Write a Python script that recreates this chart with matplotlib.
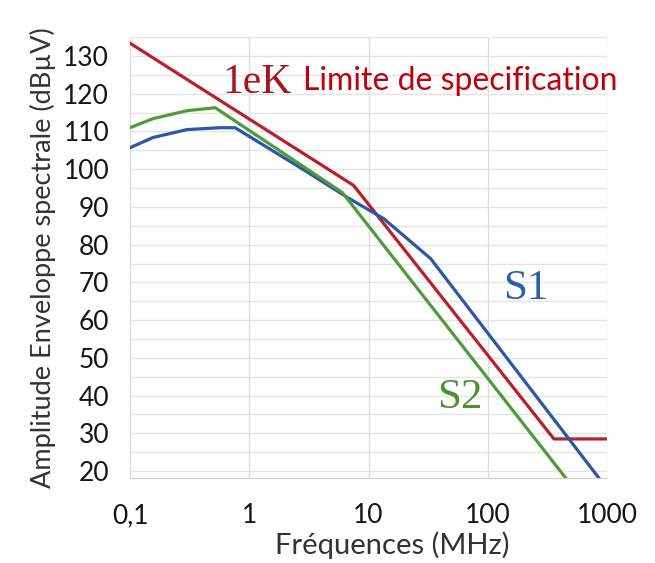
import matplotlib.pyplot as plt
from matplotlib.ticker import FixedLocator, FixedFormatter, NullLocator

# Values (MHz, dBµV)
limit_f = [0.1, 7.5, 359, 1000]
limit_v = [133.4, 95.7, 28.5, 28.5]

s1_f = [0.1, 0.156, 0.30, 0.57, 0.76, 2.68, 6.66, 13.4, 33.2, 857]
s1_v = [105.7, 108.4, 110.5, 111.0, 111.0, 100.4, 92.5, 86.9, 76.3, 18.1]

s2_f = [0.1, 0.156, 0.30, 0.518, 6.04, 452]
s2_v = [111.0, 113.4, 115.5, 116.3, 93.8, 18.1]

x_ticks = [0.1, 1, 10, 100, 1000]
x_labels = ['0,1', '1', '10', '100', '1000']
y_ticks = [20, 30, 40, 50, 60, 70, 80, 90, 100, 110, 120, 130]

plt.rcParams['font.family'] = ['Lato', 'DejaVu Sans']

fig = plt.figure(figsize=(6.55, 5.63), dpi=100)
ax = fig.add_axes([0.1985, 0.151, 0.7282, 0.783])

ax.plot(limit_f, limit_v, color='#B8202A', lw=2.3)
ax.plot(s1_f, s1_v, color='#2E56A6', lw=2.3)
ax.plot(s2_f, s2_v, color='#519A3C', lw=2.3)

ax.set_xscale('log')
ax.set_xlim(0.1, 1000)
ax.set_ylim(18.15, 134.8)

ax.xaxis.set_major_locator(FixedLocator(x_ticks))
ax.xaxis.set_major_formatter(FixedFormatter(x_labels))
ax.xaxis.set_minor_locator(NullLocator())
ax.yaxis.set_major_locator(FixedLocator(y_ticks))
ax.set_yticks(list(range(20, 136, 5)), minor=True)

ax.grid(True, which='major', axis='x', color='#DDDDDD', lw=1)
ax.grid(True, which='both', axis='y', color='#E4E4E4', lw=1)
ax.set_axisbelow(True)

for s in ['top', 'right', 'left']:
    ax.spines[s].set_visible(False)
ax.spines['bottom'].set_color('#D0D0D0')

ax.tick_params(axis='both', which='both', length=0, labelsize=19, colors='#151515')
ax.tick_params(axis='x', pad=18)
ax.tick_params(axis='y', pad=15)

ax.set_xlabel('Fréquences (MHz)', fontsize=21, color='#333333')
ax.xaxis.set_label_coords(0.549, -0.122)
ax.set_ylabel('Amplitude Enveloppe spectrale (dBµV)', fontsize=19.5, color='#333333', labelpad=5)

fig.text(0.340, 0.853, '1eK', family=['Liberation Serif'], fontsize=30,
         color='#A8141C', ha='left', va='center')
fig.text(0.463, 0.857, 'Limite de specification', fontsize=23,
         color='#C0000A', ha='left', va='center')
fig.text(0.768, 0.488, 'S1', family=['Liberation Serif'], fontsize=31,
         color='#2E5FAA', ha='left', va='center')
fig.text(0.667, 0.293, 'S2', family=['Liberation Serif'], fontsize=31,
         color='#4E8F30', ha='left', va='center')

plt.savefig('out.png', dpi=100)
